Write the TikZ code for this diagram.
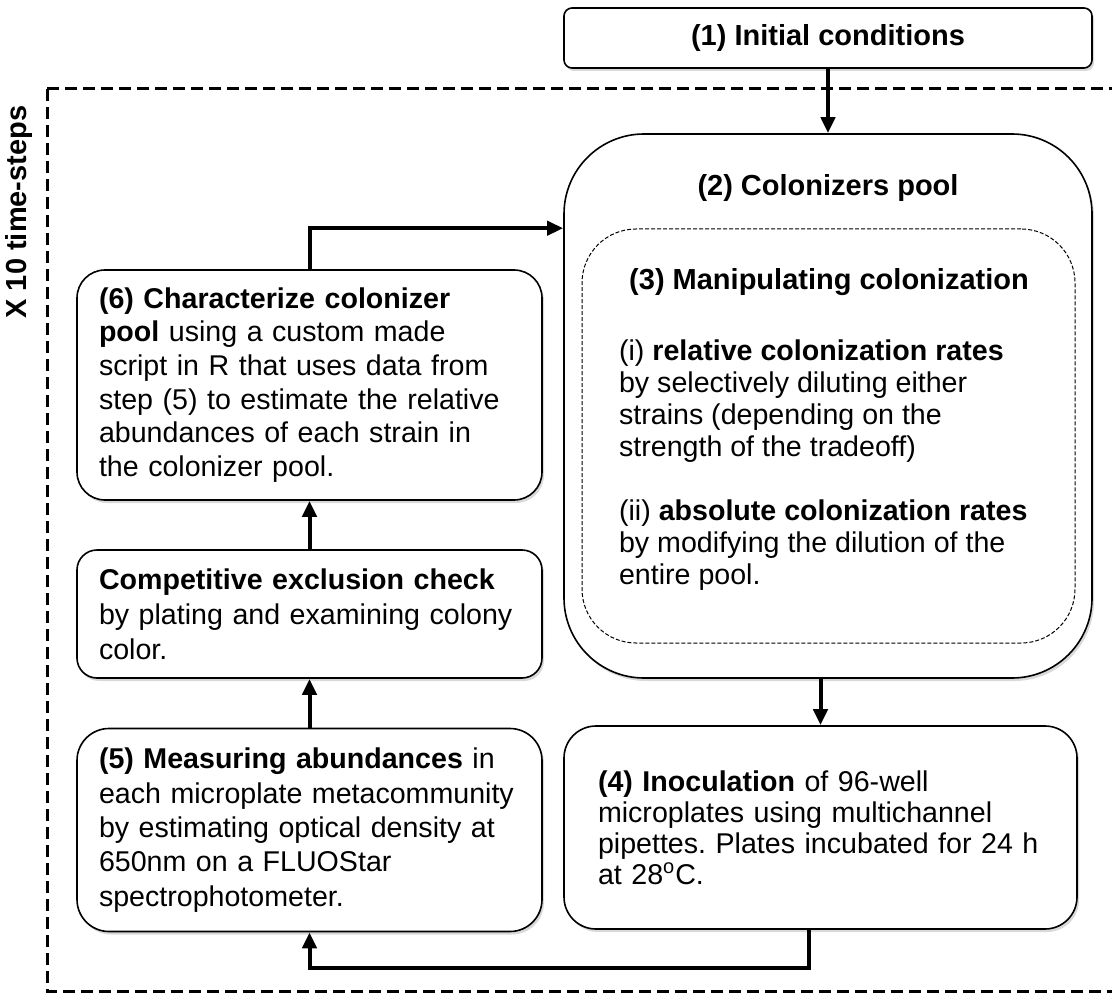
\documentclass[tikz,border=0pt]{standalone}
\usepackage{fontspec}
\setmainfont{Liberation Sans}
\frenchspacing
\usetikzlibrary{arrows.meta,positioning,shadows,calc}

\begin{document}
\begin{tikzpicture}[
    x=0.5pt, y=-0.5pt,
    box/.style={rectangle, draw, line width=0.8pt, fill=white, align=left, inner xsep=11pt, inner ysep=0pt, font=\fontsize{14.3}{16.8}\selectfont, drop shadow={shadow xshift=1pt, shadow yshift=-1.5pt, opacity=0.3}},
    leftbox/.style={box, text width=210.5pt},
    manipbox/.style={rectangle, draw, dashed, dash pattern=on 2pt off 1pt, line width=0.5pt, rounded corners=27pt, minimum width=246.5pt, minimum height=207pt},
    title/.style={font=\fontsize{14.5}{16.5}\selectfont\bfseries},
    plain/.style={align=left, font=\fontsize{14.3}{16}\selectfont},
    frame/.style={line width=1.5pt, dash pattern=on 6pt off 3pt},
    arrow/.style={-{Triangle[length=8pt,width=7pt]}, line width=2pt}
]
\useasboundingbox (0,0) rectangle (1112,994);

% loop frame
\draw[frame] (47,89) rectangle (1140,991);
\node[title, rotate=90] (steps) at (19,212) {X 10 time-steps};

% right column
\node[box, align=center, rounded corners=4pt, minimum width=264pt, minimum height=30pt, font=\fontsize{14.5}{16.5}\selectfont\bfseries] (init) at (828,38) {(1) Initial conditions};
\node[box, rounded corners=40pt, minimum width=264pt, minimum height=272pt] (pool) at (828,406) {};
\node[title] (pooltitle) at (828,188) {(2) Colonizers pool};
\node[manipbox] (manip) at (828.5,436) {};
\node[title] (maniptitle) at (829,282) {(3) Manipulating colonization};
\node[plain, anchor=west] (manipitems) at (612,465) {(i) \textbf{relative colonization rates}\\
by selectively diluting either\\
strains (depending on the\\
strength of the tradeoff)\\[16pt]
(ii) \textbf{absolute colonization rates}\\
by modifying the dilution of the\\
entire pool.};
\node[box, rounded corners=16pt, inner xsep=17pt, text width=222.5pt, minimum height=101.5pt, font=\fontsize{14.3}{15.5}\selectfont] (inoc) at (820.5,827.5) {\textbf{(4) Inoculation} of 96-well\\
microplates using multichannel\\
pipettes. Plates incubated for 24 h\\
at 28\textsuperscript{o}C.};

% left column
\node[leftbox, rounded corners=16pt, minimum height=101.5pt, font=\fontsize{14.3}{17.2}\selectfont] (measure) at (309.5,830) {\textbf{(5) Measuring abundances} in\\
each microplate metacommunity\\
by estimating optical density at\\
650nm on a FLUOStar\\
spectrophotometer.};
\node[leftbox, rounded corners=10pt, minimum height=64pt, font=\fontsize{14.3}{17.5}\selectfont] (check) at (309.5,614) {\textbf{Competitive exclusion check}\\
by plating and examining colony\\
color.};
\node[leftbox, rounded corners=14pt, minimum height=115pt] (charact) at (309.5,385) {\textbf{(6) Characterize colonizer}\\
\textbf{pool} using a custom made\\
script in R that uses data from\\
step (5) to estimate the relative\\
abundances of each strain in\\
the colonizer pool.};

% arrows
\draw[arrow] (init) -- (pool);
\draw[arrow] (pool.south -| inoc) -- (inoc);
\draw[arrow] ([xshift=-6pt]inoc.south) |- ([yshift=-18pt]measure.south) -- (measure.south);
\draw[arrow] (measure) -- (check);
\draw[arrow] (check) -- (charact);
\draw[arrow] (charact.north) |- ([yshift=20.5pt]pool.west |- charact.north);

\end{tikzpicture}
\end{document}
